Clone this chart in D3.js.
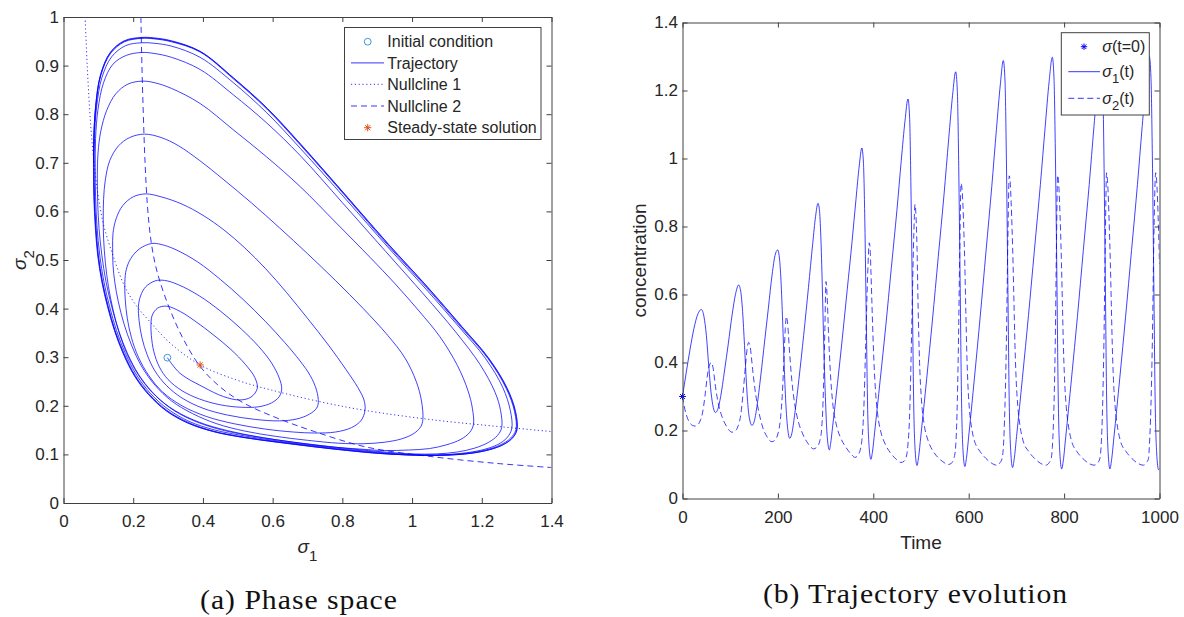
<!DOCTYPE html>
<html>
<head>
<meta charset="utf-8">
<script src="https://cdn.jsdelivr.net/npm/d3@7"></script>
<style>
  body { margin: 0; background: #ffffff; }
  svg { display: block; font-family: "Liberation Sans", Arial, Helvetica, sans-serif; }
  .axis .domain, .axis line { stroke: #404040; stroke-width: 1; }
  .axis text { font-size: 17px; fill: #262626; font-family: "Liberation Sans", Arial, sans-serif; }
</style>
</head>
<body>
<svg id="chart" width="1184" height="617"></svg>
<script>
// ---------- Phase space (sigma1, sigma2) ----------
const initialCondition = [0.298, 0.299];
const steadyState = [0.392, 0.284];

// Trajectory traced loop by loop (counter-clockwise spiral towards the limit cycle)
const phaseTrajectory = [
  // loop 1
  [0.298,0.299],[0.334,0.267],[0.40,0.239],[0.459,0.219],[0.506,0.212],[0.538,0.218],[0.556,0.236],[0.549,0.258],[0.522,0.285],[0.48,0.316],[0.43,0.346],[0.38,0.373],[0.335,0.394],[0.296,0.405],[0.27,0.401],[0.255,0.387],[0.251,0.37],
  // loop 2
  [0.252,0.345],[0.259,0.312],[0.275,0.28],[0.30,0.254],[0.34,0.231],[0.39,0.214],[0.45,0.202],[0.51,0.197],[0.56,0.198],[0.597,0.206],[0.619,0.219],[0.626,0.235],[0.619,0.257],[0.597,0.288],[0.56,0.322],[0.51,0.358],[0.45,0.395],[0.39,0.426],[0.33,0.449],[0.29,0.458],[0.263,0.457],[0.236,0.445],[0.221,0.426],[0.215,0.405],
  // loop 3
  [0.217,0.375],[0.225,0.34],[0.24,0.305],[0.262,0.272],[0.295,0.242],[0.34,0.216],[0.40,0.195],[0.47,0.181],[0.55,0.172],[0.62,0.169],[0.67,0.173],[0.706,0.183],[0.726,0.195],[0.731,0.207],[0.726,0.232],[0.708,0.262],[0.679,0.292],[0.635,0.33],[0.58,0.373],[0.515,0.419],[0.45,0.46],[0.385,0.496],[0.32,0.522],[0.28,0.532],[0.253,0.534],[0.218,0.523],[0.193,0.503],[0.18,0.48],[0.176,0.455],
  // loop 4
  [0.177,0.42],[0.183,0.38],[0.195,0.34],[0.215,0.30],[0.245,0.262],[0.285,0.228],[0.34,0.20],[0.41,0.178],[0.49,0.163],[0.58,0.152],[0.66,0.146],[0.72,0.144],[0.78,0.146],[0.826,0.155],[0.854,0.17],[0.865,0.191],[0.862,0.212],[0.845,0.237],[0.81,0.275],[0.76,0.325],[0.70,0.38],[0.64,0.433],[0.58,0.482],[0.52,0.525],[0.46,0.562],[0.40,0.592],[0.34,0.615],[0.28,0.63],[0.236,0.636],[0.20,0.63],[0.17,0.612],[0.151,0.585],[0.142,0.555],[0.141,0.525],
  // loop 5
  [0.142,0.49],[0.147,0.455],[0.157,0.415],[0.173,0.37],[0.195,0.325],[0.225,0.28],[0.263,0.242],[0.31,0.21],[0.37,0.184],[0.44,0.163],[0.52,0.148],[0.61,0.137],[0.70,0.129],[0.79,0.123],[0.86,0.122],[0.92,0.125],[0.97,0.132],[1.005,0.143],[1.025,0.157],[1.031,0.172],[1.027,0.21],[1.012,0.25],[0.98,0.298],[0.93,0.345],[0.86,0.40],[0.78,0.458],[0.70,0.513],[0.62,0.566],[0.54,0.617],[0.46,0.665],[0.39,0.705],[0.33,0.735],[0.28,0.752],[0.232,0.759],[0.19,0.752],[0.158,0.735],[0.133,0.705],[0.12,0.665],[0.115,0.625],[0.114,0.585],
  // loop 6
  [0.115,0.545],[0.12,0.495],[0.129,0.445],[0.143,0.395],[0.162,0.345],[0.188,0.298],[0.222,0.256],[0.265,0.22],[0.32,0.19],[0.39,0.166],[0.47,0.149],[0.56,0.136],[0.66,0.125],[0.76,0.116],[0.85,0.111],[0.92,0.108],[0.99,0.109],[1.05,0.112],[1.10,0.12],[1.14,0.131],[1.165,0.145],[1.176,0.161],[1.173,0.195],[1.16,0.232],[1.13,0.283],[1.08,0.342],[1.02,0.395],[0.95,0.452],[0.88,0.505],[0.78,0.578],[0.679,0.651],[0.583,0.712],[0.487,0.768],[0.392,0.822],[0.31,0.853],[0.26,0.865],[0.226,0.868],[0.185,0.862],[0.15,0.842],[0.124,0.808],[0.107,0.765],[0.099,0.72],[0.097,0.675],
  // loop 7
  [0.098,0.62],[0.102,0.565],[0.11,0.51],[0.122,0.455],[0.138,0.405],[0.158,0.355],[0.184,0.307],[0.215,0.265],[0.255,0.228],[0.305,0.196],[0.365,0.172],[0.44,0.153],[0.53,0.139],[0.63,0.128],[0.73,0.119],[0.83,0.111],[0.92,0.105],[1.0,0.101],[1.07,0.101],[1.13,0.105],[1.18,0.113],[1.22,0.125],[1.245,0.139],[1.257,0.155],[1.254,0.19],[1.238,0.228],[1.195,0.285],[1.125,0.352],[1.035,0.428],[0.925,0.517],[0.80,0.618],[0.679,0.715],[0.583,0.782],[0.487,0.84],[0.392,0.892],[0.31,0.917],[0.26,0.925],[0.224,0.927],[0.18,0.921],[0.142,0.903],[0.115,0.865],[0.099,0.81],[0.092,0.75],[0.091,0.69],
  // loop 8
  [0.092,0.63],[0.096,0.57],[0.104,0.51],[0.116,0.455],[0.132,0.405],[0.152,0.355],[0.178,0.307],[0.21,0.263],[0.25,0.225],[0.30,0.193],[0.36,0.168],[0.435,0.15],[0.52,0.138],[0.62,0.127],[0.72,0.118],[0.82,0.11],[0.91,0.104],[0.99,0.10],[1.07,0.099],[1.14,0.102],[1.20,0.109],[1.245,0.12],[1.272,0.134],[1.286,0.153],[1.282,0.19],[1.26,0.238],[1.21,0.298],[1.135,0.362],[1.04,0.44],[0.93,0.527],[0.81,0.625],[0.679,0.73],[0.583,0.803],[0.487,0.865],[0.392,0.917],[0.31,0.94],[0.26,0.946],[0.224,0.947],[0.178,0.941],[0.138,0.918],[0.11,0.875],[0.095,0.815],[0.089,0.75],[0.088,0.69],
  // loop 9
  [0.089,0.63],[0.093,0.57],[0.10,0.51],[0.112,0.455],[0.128,0.405],[0.148,0.355],[0.174,0.307],[0.206,0.262],[0.246,0.224],[0.296,0.191],[0.357,0.166],[0.43,0.148],[0.515,0.136],[0.615,0.126],[0.715,0.117],[0.815,0.109],[0.905,0.103],[0.985,0.099],[1.065,0.098],[1.14,0.101],[1.205,0.108],[1.252,0.119],[1.282,0.133],[1.298,0.151],[1.294,0.188],[1.27,0.236],[1.218,0.297],[1.14,0.362],[1.042,0.443],[0.93,0.531],[0.813,0.628],[0.679,0.737],[0.583,0.811],[0.487,0.873],[0.392,0.928],[0.31,0.949],[0.26,0.955],[0.224,0.956],[0.175,0.949],[0.135,0.925],[0.107,0.88],[0.093,0.815],[0.087,0.75],[0.087,0.69],
  // loop 10
  [0.088,0.63],[0.092,0.57],[0.099,0.51],[0.111,0.455],[0.127,0.405],[0.147,0.355],[0.173,0.306],[0.205,0.261],[0.245,0.223],[0.295,0.19],[0.356,0.165],[0.43,0.147],[0.515,0.135],[0.615,0.125],[0.715,0.116],[0.815,0.108],[0.905,0.102],[0.985,0.099],[1.065,0.098],[1.14,0.10],[1.207,0.107],[1.255,0.118],[1.285,0.132],[1.30,0.15],[1.296,0.188],[1.272,0.236],[1.22,0.297],[1.142,0.363],[1.044,0.444],[0.932,0.532],[0.814,0.629],[0.68,0.738],[0.584,0.812],[0.488,0.874],[0.392,0.929],[0.31,0.95],[0.26,0.956],[0.224,0.957],[0.174,0.95],[0.134,0.926],[0.106,0.88],[0.092,0.815],[0.087,0.75],[0.086,0.69],
  // loop 11
  [0.087,0.63],[0.091,0.57],[0.098,0.51],[0.11,0.455],[0.126,0.405],[0.146,0.355],[0.172,0.306],[0.204,0.261],[0.244,0.223],[0.294,0.19],[0.355,0.165],[0.43,0.147],[0.515,0.135],[0.615,0.125],[0.715,0.116],[0.815,0.108],[0.905,0.102],[0.985,0.099],[1.065,0.098],[1.14,0.10],[1.207,0.107],[1.256,0.118],[1.286,0.132],[1.301,0.15],[1.297,0.188],[1.273,0.236],[1.221,0.297],[1.143,0.363],[1.045,0.444],[0.933,0.532],[0.815,0.629],[0.681,0.738],[0.585,0.812],[0.489,0.874],[0.393,0.929],[0.31,0.951],[0.26,0.957],[0.224,0.958],[0.174,0.951],[0.134,0.927],[0.106,0.88],[0.092,0.815],[0.087,0.75],[0.086,0.70]
];

// Nullclines
const nullcline1 = [[0.062,1.0],[0.068,0.9],[0.075,0.81],[0.081,0.75],[0.09,0.685],[0.10,0.63],[0.114,0.575],[0.13,0.535],[0.143,0.507],[0.16,0.472],[0.181,0.438],[0.21,0.405],[0.248,0.373],[0.306,0.329],[0.392,0.284],[0.497,0.253],[0.593,0.233],[0.745,0.207],[0.870,0.19],[1.061,0.171],[1.253,0.157],[1.40,0.147]];
const nullcline2 = [[0.222,1.0],[0.225,0.9],[0.229,0.8],[0.234,0.7],[0.241,0.61],[0.25,0.545],[0.262,0.495],[0.277,0.455],[0.306,0.397],[0.344,0.337],[0.392,0.281],[0.449,0.239],[0.516,0.206],[0.612,0.175],[0.72,0.147],[0.87,0.115],[1.061,0.095],[1.25,0.081],[1.40,0.073]];

const phaseXTicks = [0, 0.2, 0.4, 0.6, 0.8, 1, 1.2, 1.4];
const phaseXLabels = ["0", "0.2", "0.4", "0.6", "0.8", "1", "1.2", "1.4"];
const phaseYTicks = [0, 0.1, 0.2, 0.3, 0.4, 0.5, 0.6, 0.7, 0.8, 0.9, 1];
const phaseYLabels = ["0", "0.1", "0.2", "0.3", "0.4", "0.5", "0.6", "0.7", "0.8", "0.9", "1"];
const phaseLegend = ["Initial condition", "Trajectory", "Nullcline 1", "Nullcline 2", "Steady-state solution"];

// ---------- Time evolution ----------
const sigmaInitial = [0, 0.3];
const sigma1Series = [
  [0,0.300],[8,0.372],[16,0.44],[24,0.50],[32,0.542],[39.5,0.556],[45,0.535],[50,0.48],[55,0.39],[60,0.31],[64.5,0.268],[69,0.253],
  [74,0.262],[80,0.30],[88,0.375],[96,0.455],[104,0.54],[111,0.60],[117.7,0.628],[122,0.61],[126,0.55],[130,0.45],[134,0.34],[138,0.26],[142,0.225],[145.7,0.215],
  [150,0.225],[156,0.27],[164,0.36],[172,0.46],[180,0.56],[188,0.66],[194,0.715],[199.5,0.731],[203,0.71],[206.5,0.64],[210,0.52],[213.5,0.38],[217,0.27],[221,0.20],[224.7,0.177],
  [229,0.19],[235,0.245],[244,0.35],[254,0.48],[264,0.62],[273,0.75],[279,0.83],[284,0.868],[287,0.85],[290,0.77],[293,0.63],[296,0.46],[299.5,0.30],[303,0.19],[307.8,0.143],
  [310.5,0.161],[314.6,0.21],[324.9,0.338],[335.1,0.472],[345.3,0.614],[355.5,0.756],[363.7,0.88],[370.5,0.978],[376,1.031],[379.4,0.985],[382.3,0.811],[385.1,0.546],[388.2,0.262],[391.2,0.152],[395,0.115],
  [398.1,0.136],[402.8,0.195],[414.4,0.348],[426.1,0.507],[437.7,0.677],[449.4,0.846],[458.7,0.995],[466.5,1.111],[472.7,1.175],[476.1,1.121],[478.9,0.916],[481.8,0.604],[484.8,0.269],[487.8,0.14],[491.6,0.097],
  [494.8,0.12],[499.7,0.184],[511.9,0.352],[524,0.525],[536.2,0.711],[548.4,0.896],[558.1,1.058],[566.2,1.186],[572.7,1.255],[576.2,1.197],[579.1,0.976],[582,0.64],[585.1,0.28],[588.1,0.14],[592,0.094],
  [595.2,0.118],[600.1,0.184],[612.2,0.357],[624.2,0.536],[636.3,0.727],[648.4,0.918],[658.1,1.085],[666.2,1.216],[672.6,1.288],[676.1,1.228],[679,1.001],[681.9,0.654],[685,0.283],[688.1,0.139],[692,0.091],
  [695.3,0.115],[700.3,0.182],[712.8,0.357],[725.3,0.538],[737.8,0.731],[750.3,0.924],[760.3,1.093],[768.6,1.226],[775.3,1.298],[778.8,1.237],[781.8,1.007],[784.8,0.656],[787.9,0.281],[791,0.135],[795,0.087],
  [798.3,0.111],[803.2,0.178],[815.6,0.354],[828,0.536],[840.3,0.73],[852.7,0.924],[862.6,1.094],[870.8,1.227],[877.4,1.30],[880.7,1.239],[883.5,1.009],[886.3,0.657],[889.3,0.281],[892.3,0.136],[896,0.087],
  [899.3,0.111],[904.3,0.178],[916.7,0.354],[929,0.536],[941.4,0.73],[953.8,0.924],[963.7,1.094],[972,1.227],[978.6,1.30],[982.1,1.239],[985,1.008],[987.9,0.656],[991,0.279],[994.1,0.134],[998,0.085],[1000,0.088]
];
const sigma2Series = [
  [0,0.300],[5,0.262],[10,0.238],[16,0.221],[21,0.215],[26.8,0.213],[33,0.218],[38,0.232],[42,0.252],[47,0.30],[52,0.36],[56,0.39],[60.4,0.40],[64,0.385],[69,0.33],[75,0.28],[83,0.24],[92,0.213],[103.8,0.195],
  [110,0.198],[117,0.215],[122,0.245],[127,0.31],[132,0.39],[135.5,0.44],[138.7,0.459],[142,0.445],[147,0.38],[153,0.31],[160,0.255],[168,0.21],[177,0.182],[187.6,0.167],
  [194,0.172],[200,0.19],[205,0.23],[209,0.30],[213,0.42],[215.5,0.50],[217.7,0.535],[220,0.52],[224,0.44],[229,0.35],[235,0.28],[243,0.225],[252,0.19],[263,0.162],[275,0.146],
  [282,0.152],[288,0.17],[292,0.21],[295.5,0.32],[298.5,0.50],[300.8,0.638],[303,0.60],[306,0.49],[310,0.37],[315,0.28],[322,0.22],[331,0.18],[342,0.152],[352,0.133],[362,0.121],
  [368,0.128],[373,0.145],[376,0.171],[380,0.26],[384,0.45],[388,0.65],[391.6,0.752],[393.5,0.73],[395,0.67],[397,0.58],[400,0.45],[404,0.33],[409,0.25],[416,0.195],[425,0.16],[436,0.134],[447,0.117],[458,0.106],
  [465,0.11],[470,0.128],[472.7,0.16],[476,0.24],[479,0.40],[482,0.60],[485,0.78],[487.4,0.865],[489.5,0.83],[491.6,0.74],[494,0.56],[497,0.40],[501,0.29],[507,0.215],[515,0.17],[525,0.14],[536,0.12],[546,0.108],[557,0.10],
  [564,0.104],[569,0.118],[572.7,0.154],[575.5,0.25],[578.3,0.44],[581.2,0.72],[584,0.927],[586,0.91],[588,0.86],[590,0.78],[592,0.68],[594,0.55],[596,0.43],[598.5,0.33],[602,0.255],[607,0.20],[612,0.17],[624,0.138],[636,0.118],[648,0.104],[658.6,0.098],
  [666,0.106],[670,0.118],[672.6,0.15],[676,0.27],[679,0.46],[682,0.75],[685,0.949],[687,0.93],[689,0.87],[691,0.79],[693,0.69],[695,0.57],[697,0.45],[699.5,0.35],[703,0.27],[708,0.21],[714,0.17],[726,0.138],[738,0.118],[750,0.104],[762,0.098],
  [769,0.106],[773,0.118],[775.3,0.15],[778.7,0.27],[781.5,0.46],[784,0.75],[786.5,0.951],[788.5,0.93],[790.5,0.87],[792.5,0.79],[794.5,0.69],[796.5,0.57],[798.5,0.45],[801,0.35],[804.5,0.27],[809.5,0.21],[815.5,0.17],[827,0.138],[839,0.118],[851,0.104],[863,0.098],
  [871,0.106],[875,0.118],[877.4,0.15],[880.7,0.27],[883.5,0.46],[886.3,0.75],[889,0.958],[891,0.935],[893,0.875],[895,0.79],[897,0.69],[899,0.57],[901,0.45],[903.5,0.35],[907,0.27],[912,0.21],[918,0.17],[930,0.138],[942,0.118],[954,0.104],[966,0.098],
  [973,0.106],[977,0.118],[978.6,0.15],[982,0.27],[985,0.46],[988,0.75],[992,0.958],[994,0.935],[996,0.875],[998,0.79],[1000,0.69]
];

const timeTicks = [0, 200, 400, 600, 800, 1000];
const timeLabels = ["0", "200", "400", "600", "800", "1000"];
const concTicks = [0, 0.2, 0.4, 0.6, 0.8, 1, 1.2, 1.4];
const concLabels = ["0", "0.2", "0.4", "0.6", "0.8", "1", "1.2", "1.4"];

// ---------- drawing ----------
const BLUE = "#0000ff";
const IC_COLOR = "#3a9ad9";
const SS_COLOR = "#d95319";
const TEXT = "#262626";
const SERIF = "'Liberation Serif', 'Times New Roman', serif";

const svg = d3.select("#chart");

function asteriskPath(cx, cy, s) {
  const d = s * 0.72;
  return `M${cx - s},${cy}L${cx + s},${cy}M${cx},${cy - s}L${cx},${cy + s}` +
         `M${cx - d},${cy - d}L${cx + d},${cy + d}M${cx - d},${cy + d}L${cx + d},${cy - d}`;
}

function drawFrame(g, x, y, xt, xl, yt, yl) {
  const [x0, x1] = x.range();
  const [y0, y1] = y.range();
  g.append("g").attr("class", "axis").attr("transform", `translate(0,${y0})`)
    .call(d3.axisBottom(x).tickValues(xt).tickFormat((d, i) => xl[i]).tickSizeInner(-5).tickSizeOuter(0).tickPadding(12));
  g.append("g").attr("class", "axis").attr("transform", `translate(0,${y1})`)
    .call(d3.axisTop(x).tickValues(xt).tickFormat("").tickSizeInner(-5).tickSizeOuter(0));
  g.append("g").attr("class", "axis").attr("transform", `translate(${x0},0)`)
    .call(d3.axisLeft(y).tickValues(yt).tickFormat((d, i) => yl[i]).tickSizeInner(-5).tickSizeOuter(0).tickPadding(4.5));
  g.append("g").attr("class", "axis").attr("transform", `translate(${x1},0)`)
    .call(d3.axisRight(y).tickValues(yt).tickFormat("").tickSizeInner(-5).tickSizeOuter(0));
  g.selectAll(".axis text").attr("font-family", null);
}

function addClip(id, x, y) {
  const [x0, x1] = x.range();
  const [y0, y1] = y.range();
  svg.append("clipPath").attr("id", id).append("rect")
    .attr("x", x0).attr("y", y1).attr("width", x1 - x0).attr("height", y0 - y1);
}

// Sub-figure caption: slightly widened serif text centred on cx
function caption(cx, baseline, width, label) {
  const sx = 1.1;
  svg.append("g").attr("transform", `translate(${cx},${baseline}) scale(${sx},1)`)
    .append("text").attr("x", 0).attr("y", 0).attr("text-anchor", "middle")
    .attr("font-family", SERIF).attr("font-size", 27).attr("fill", "#111")
    .attr("textLength", width / sx).attr("lengthAdjust", "spacing").text(label);
}

// ===== Panel (a): phase space =====
const xP = d3.scaleLinear().domain([0, 1.4]).range([63.5, 551.5]);
const yP = d3.scaleLinear().domain([0, 1]).range([503, 17]);
addClip("clipPhase", xP, yP);

const gA = svg.append("g");
const phaseLine = d3.line().x(d => xP(d[0])).y(d => yP(d[1])).curve(d3.curveCatmullRom.alpha(0.5));
const plotA = gA.append("g").attr("clip-path", "url(#clipPhase)");

plotA.append("path").datum(phaseTrajectory).attr("d", phaseLine)
  .attr("fill", "none").attr("stroke", BLUE).attr("stroke-width", 0.75);
plotA.append("path").datum(nullcline1).attr("d", phaseLine)
  .attr("fill", "none").attr("stroke", BLUE).attr("stroke-width", 0.8).attr("stroke-dasharray", "1.2 2.6");
plotA.append("path").datum(nullcline2).attr("d", phaseLine)
  .attr("fill", "none").attr("stroke", BLUE).attr("stroke-width", 0.8).attr("stroke-dasharray", "6 4");

gA.append("circle").attr("cx", xP(initialCondition[0])).attr("cy", yP(initialCondition[1])).attr("r", 3.4)
  .attr("fill", "none").attr("stroke", IC_COLOR).attr("stroke-width", 1);
gA.append("path").attr("d", asteriskPath(xP(steadyState[0]), yP(steadyState[1]), 3.6))
  .attr("fill", "none").attr("stroke", SS_COLOR).attr("stroke-width", 1);

drawFrame(gA, xP, yP, phaseXTicks, phaseXLabels, phaseYTicks, phaseYLabels);

// legend (a)
const legA = gA.append("g");
legA.append("rect").attr("x", 344.5).attr("y", 27.5).attr("width", 196.5).attr("height", 112)
  .attr("fill", "#ffffff").attr("stroke", "#404040").attr("stroke-width", 1);
const legARows = [41.7, 62.9, 84.3, 106, 127.7];
legA.append("circle").attr("cx", 367.7).attr("cy", legARows[0]).attr("r", 3.4)
  .attr("fill", "none").attr("stroke", IC_COLOR).attr("stroke-width", 1);
legA.append("line").attr("x1", 351).attr("x2", 384).attr("y1", legARows[1]).attr("y2", legARows[1])
  .attr("stroke", BLUE).attr("stroke-width", 0.8);
legA.append("line").attr("x1", 351).attr("x2", 384).attr("y1", legARows[2]).attr("y2", legARows[2])
  .attr("stroke", BLUE).attr("stroke-width", 0.8).attr("stroke-dasharray", "1.2 2.6");
legA.append("line").attr("x1", 351).attr("x2", 384).attr("y1", legARows[3]).attr("y2", legARows[3])
  .attr("stroke", BLUE).attr("stroke-width", 0.8).attr("stroke-dasharray", "6 4");
legA.append("path").attr("d", asteriskPath(367.7, legARows[4], 3.6))
  .attr("fill", "none").attr("stroke", SS_COLOR).attr("stroke-width", 1);
legA.selectAll("text.lab").data(phaseLegend).join("text").attr("class", "lab")
  .attr("x", 387.3).attr("y", (d, i) => legARows[i]).attr("dy", "0.36em")
  .attr("font-size", 16).attr("fill", TEXT).text(d => d);

// axis labels (a)
const xLabA = gA.append("text").attr("x", 307.5).attr("y", 553).attr("text-anchor", "middle")
  .attr("font-size", 19).attr("fill", TEXT);
xLabA.append("tspan").attr("font-style", "italic").text("σ");
xLabA.append("tspan").attr("font-size", 15).attr("dy", 8).text("1");

const yLabA = gA.append("text").attr("transform", "translate(26,260) rotate(-90)").attr("text-anchor", "middle")
  .attr("font-size", 19).attr("fill", TEXT);
yLabA.append("tspan").attr("font-style", "italic").text("σ");
yLabA.append("tspan").attr("font-size", 15).attr("dy", 8).text("2");

caption(298.5, 609, 197, "(a) Phase space");

// ===== Panel (b): trajectory evolution =====
const xT = d3.scaleLinear().domain([0, 1000]).range([682.5, 1159.5]);
const yT = d3.scaleLinear().domain([0, 1.4]).range([498.5, 22.5]);
addClip("clipTime", xT, yT);

const gB = svg.append("g");
const timeLine = d3.line().x(d => xT(d[0])).y(d => yT(d[1])).curve(d3.curveMonotoneX);
const plotB = gB.append("g").attr("clip-path", "url(#clipTime)");

plotB.append("path").datum(sigma2Series).attr("d", timeLine)
  .attr("fill", "none").attr("stroke", BLUE).attr("stroke-width", 0.75).attr("stroke-dasharray", "6 3.5");
plotB.append("path").datum(sigma1Series).attr("d", timeLine)
  .attr("fill", "none").attr("stroke", BLUE).attr("stroke-width", 0.75);

gB.append("path").attr("d", asteriskPath(xT(sigmaInitial[0]), yT(sigmaInitial[1]), 3.4))
  .attr("fill", "none").attr("stroke", BLUE).attr("stroke-width", 1);

drawFrame(gB, xT, yT, timeTicks, timeLabels, concTicks, concLabels);

// legend (b)
const legB = gB.append("g");
legB.append("rect").attr("x", 1061.3).attr("y", 32.7).attr("width", 88).attr("height", 82.3)
  .attr("fill", "#ffffff").attr("stroke", "#404040").attr("stroke-width", 1);
const legBRows = [46.7, 71.7, 98.3];
legB.append("path").attr("d", asteriskPath(1084, legBRows[0], 3.2))
  .attr("fill", "none").attr("stroke", BLUE).attr("stroke-width", 1);
legB.append("line").attr("x1", 1068.3).attr("x2", 1100).attr("y1", legBRows[1]).attr("y2", legBRows[1])
  .attr("stroke", BLUE).attr("stroke-width", 0.8);
legB.append("line").attr("x1", 1068.3).attr("x2", 1100).attr("y1", legBRows[2]).attr("y2", legBRows[2])
  .attr("stroke", BLUE).attr("stroke-width", 0.8).attr("stroke-dasharray", "6 3.5");

const lb0 = legB.append("text").attr("x", 1102.3).attr("y", legBRows[0]).attr("dy", "0.36em")
  .attr("font-size", 16).attr("fill", TEXT);
lb0.append("tspan").attr("font-style", "italic").text("σ");
lb0.append("tspan").text("(t=0)");
[["1", legBRows[1]], ["2", legBRows[2]]].forEach(([sub, yy]) => {
  const t = legB.append("text").attr("x", 1102.3).attr("y", yy).attr("dy", "0.36em")
    .attr("font-size", 16).attr("fill", TEXT);
  t.append("tspan").attr("font-style", "italic").text("σ");
  t.append("tspan").attr("font-size", 13).attr("dy", 6).text(sub);
  t.append("tspan").attr("dy", -6).text("(t)");
});

// axis labels (b)
gB.append("text").attr("x", 921).attr("y", 549).attr("text-anchor", "middle")
  .attr("font-size", 19).attr("fill", TEXT).text("Time");
gB.append("text").attr("transform", "translate(646,260.5) rotate(-90)").attr("text-anchor", "middle")
  .attr("font-size", 19).attr("fill", TEXT).text("concentration");

caption(915, 603, 304, "(b) Trajectory evolution");
</script>
</body>
</html>
